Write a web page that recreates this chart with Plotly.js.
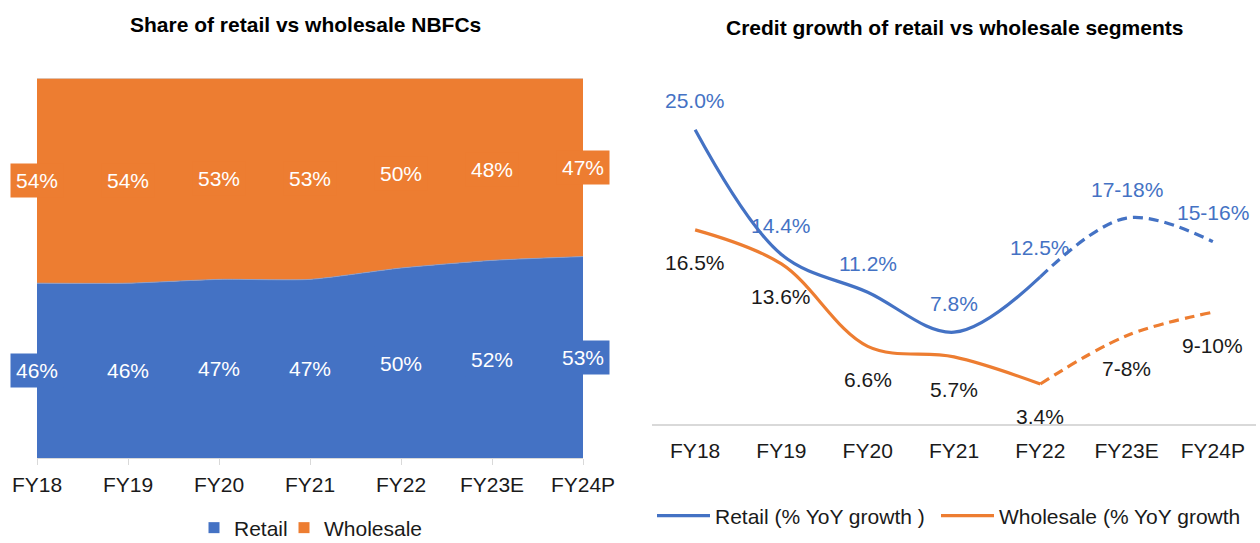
<!DOCTYPE html>
<html>
<head>
<meta charset="utf-8">
<script src="https://cdn.plot.ly/plotly-3.0.1.min.js"></script>
<style>html,body{margin:0;padding:0;background:#fff;}#chart{width:1260px;height:543px;}</style>
</head>
<body>
<div id="chart"></div>
<script>
const categories = ['FY18', 'FY19', 'FY20', 'FY21', 'FY22', 'FY23E', 'FY24P'];
const shareRetail = [46, 46, 47, 47, 50, 52, 53];
const shareWholesale = [54, 54, 53, 53, 50, 48, 47];
const shareRetailLabels = ['46%', '46%', '47%', '47%', '50%', '52%', '53%'];
const shareWholesaleLabels = ['54%', '54%', '53%', '53%', '50%', '48%', '47%'];
const growthRetail = [25.0, 14.4, 11.2, 7.8, 12.5, 17.5, 15.5];
const growthWholesale = [16.5, 13.6, 6.6, 5.7, 3.4, 7.5, 9.5];
const growthRetailLabels = ['25.0%', '14.4%', '11.2%', '7.8%', '12.5%', '17-18%', '15-16%'];
const growthWholesaleLabels = ['16.5%', '13.6%', '6.6%', '5.7%', '3.4%', '7-8%', '9-10%'];
const lastActualIndex = 4; // FY22: solid up to here, dashed afterwards

const BLUE = '#4472C4';
const ORANGE = '#ED7D31';
const FONT = 'Arial, "Liberation Sans", sans-serif';
const TXT = '#1a1a1a';
const FS = 21;

const solidCats = categories.slice(0, lastActualIndex + 1);
const dashCats = categories.slice(lastActualIndex);

const traces = [
  // Left: stacked area
  {type: 'scatter', mode: 'lines', x: categories, y: shareRetail, stackgroup: 'share',
   fillcolor: BLUE, line: {color: '#7f9fd8', width: 0.8, shape: 'spline', smoothing: 0.6},
   showlegend: false, xaxis: 'x', yaxis: 'y', hoverinfo: 'skip'},
  {type: 'scatter', mode: 'lines', x: categories, y: shareWholesale, stackgroup: 'share',
   fillcolor: ORANGE, line: {color: '#d9d9d9', width: 1.5, shape: 'spline', smoothing: 0.6},
   showlegend: false, xaxis: 'x', yaxis: 'y', hoverinfo: 'skip'},
  // Left legend entries
  {type: 'scatter', mode: 'markers', x: [null], y: [null], name: 'Retail',
   marker: {symbol: 'square', size: 11, color: BLUE}, xaxis: 'x', yaxis: 'y', legend: 'legend'},
  {type: 'scatter', mode: 'markers', x: [null], y: [null], name: 'Wholesale',
   marker: {symbol: 'square', size: 11, color: ORANGE}, xaxis: 'x', yaxis: 'y', legend: 'legend4'},
  // Right: growth lines
  {type: 'scatter', mode: 'lines', x: solidCats, y: growthRetail.slice(0, lastActualIndex + 1),
   name: 'Retail (% YoY growth )', line: {color: BLUE, width: 3.2, shape: 'spline', smoothing: 1},
   xaxis: 'x2', yaxis: 'y2', legend: 'legend2'},
  {type: 'scatter', mode: 'lines', x: dashCats, y: growthRetail.slice(lastActualIndex),
   line: {color: BLUE, width: 3.2, shape: 'spline', smoothing: 1, dash: '10px,6px'},
   showlegend: false, xaxis: 'x2', yaxis: 'y2'},
  {type: 'scatter', mode: 'lines', x: solidCats, y: growthWholesale.slice(0, lastActualIndex + 1),
   name: 'Wholesale (% YoY growth', line: {color: ORANGE, width: 3.2, shape: 'spline', smoothing: 1},
   xaxis: 'x2', yaxis: 'y2', legend: 'legend3'},
  {type: 'scatter', mode: 'lines', x: dashCats, y: growthWholesale.slice(lastActualIndex),
   line: {color: ORANGE, width: 3.2, shape: 'spline', smoothing: 1, dash: '10px,6px'},
   showlegend: false, xaxis: 'x2', yaxis: 'y2'}
];

const annotations = [];
// Titles
annotations.push({text: '<b>Share of retail vs wholesale NBFCs</b>', xref: 'paper', yref: 'paper',
  x: 305 / 1260, y: 1 - 25 / 543, xanchor: 'center', yanchor: 'middle', showarrow: false,
  font: {family: FONT, size: FS, color: '#000'}});
annotations.push({text: '<b>Credit growth of retail vs wholesale segments</b>', xref: 'paper', yref: 'paper',
  x: 954 / 1260, y: 1 - 28 / 543, xanchor: 'center', yanchor: 'middle', showarrow: false,
  font: {family: FONT, size: FS, color: '#000'}});

// Left data labels (centre of each band)
categories.forEach((c, i) => {
  annotations.push({x: c, y: shareRetail[i] / 2, xref: 'x', yref: 'y', text: shareRetailLabels[i],
    showarrow: false, bgcolor: BLUE, borderpad: 5, font: {family: FONT, size: FS, color: '#fff'}});
  annotations.push({x: c, y: shareRetail[i] + shareWholesale[i] / 2, xref: 'x', yref: 'y',
    text: shareWholesaleLabels[i], showarrow: false, bgcolor: ORANGE, borderpad: 5,
    font: {family: FONT, size: FS, color: '#fff'}});
});
// Right data labels
categories.forEach((c, i) => {
  annotations.push({x: c, y: growthRetail[i], xref: 'x2', yref: 'y2', text: growthRetailLabels[i],
    showarrow: false, yshift: 29, font: {family: FONT, size: FS, color: BLUE}});
  annotations.push({x: c, y: growthWholesale[i], xref: 'x2', yref: 'y2', text: growthWholesaleLabels[i],
    showarrow: false, yshift: -33, font: {family: FONT, size: FS, color: TXT}});
});

const legendBase = {orientation: 'h', yanchor: 'middle', xanchor: 'left', bgcolor: 'rgba(0,0,0,0)',
  font: {family: FONT, size: FS, color: TXT}, borderwidth: 0};

const layout = {
  width: 1260, height: 543,
  margin: {l: 0, r: 0, t: 0, b: 0, pad: 0, autoexpand: false},
  paper_bgcolor: '#fff', plot_bgcolor: 'rgba(0,0,0,0)',
  font: {family: FONT, size: FS, color: TXT},
  xaxis: {domain: [37 / 1260, 583 / 1260], type: 'category', range: [0, 6], showgrid: false,
    zeroline: false, showline: true, linecolor: '#d9d9d9', linewidth: 1, ticks: 'outside',
    ticklen: 6, tickcolor: '#d9d9d9', ticklabelstandoff: 2, tickfont: {family: FONT, size: FS, color: TXT},
    fixedrange: true, automargin: false},
  yaxis: {domain: [1 - 458 / 543, 1 - 78 / 543], range: [0, 100], visible: false, fixedrange: true},
  xaxis2: {domain: [652 / 1260, 1256 / 1260], type: 'category', range: [-0.5, 6.5], showgrid: false,
    zeroline: false, showline: true, linecolor: '#d9d9d9', linewidth: 1.5, ticks: '',
    ticklabelstandoff: 7, tickfont: {family: FONT, size: FS, color: TXT}, anchor: 'y2', fixedrange: true,
    automargin: false},
  yaxis2: {domain: [1 - 424 / 543, 1 - 71 / 543], range: [0, 30], visible: false, anchor: 'x2', fixedrange: true},
  showlegend: true,
  legend: Object.assign({}, legendBase, {x: 194 / 1260, y: 15 / 543}),
  legend4: Object.assign({}, legendBase, {x: 284 / 1260, y: 15 / 543}),
  legend2: Object.assign({}, legendBase, {x: 652 / 1260, y: 27 / 543, itemwidth: 53}),
  legend3: Object.assign({}, legendBase, {x: 936 / 1260, y: 27 / 543, itemwidth: 53}),
  annotations: annotations
};

Plotly.newPlot('chart', traces, layout, {displayModeBar: false, staticPlot: true});
</script>
</body>
</html>
